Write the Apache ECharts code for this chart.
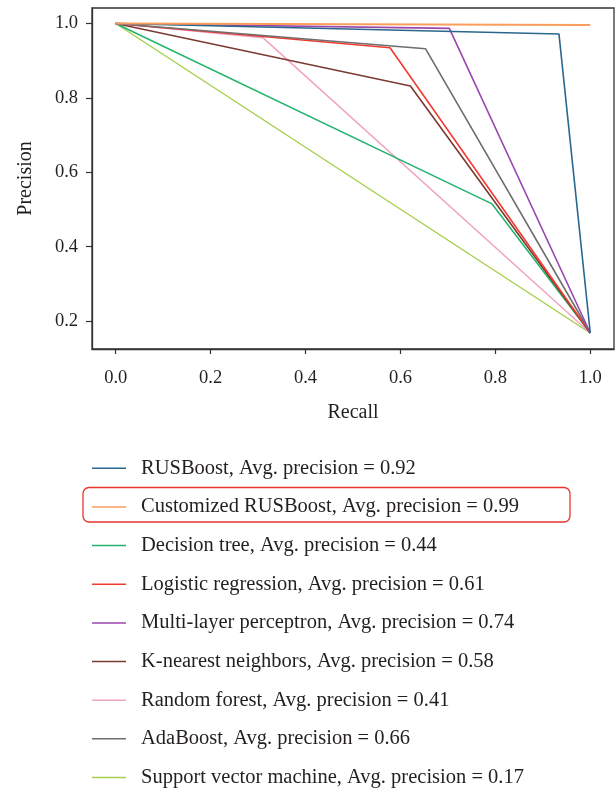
<!DOCTYPE html>
<html>
<head>
<meta charset="utf-8">
<script src="https://cdn.jsdelivr.net/npm/echarts@6/dist/echarts.min.js"></script>
<style>
html,body{margin:0;padding:0;background:#fff;}
#chart{width:616px;height:788px;}
</style>
</head>
<body>
<div id="chart"></div>
<script>
// ---- data ----
const seriesNames = [
  "RUSBoost, Avg. precision = 0.92",
  "Customized RUSBoost, Avg. precision = 0.99",
  "Decision tree, Avg. precision = 0.44",
  "Logistic regression, Avg. precision = 0.61",
  "Multi-layer perceptron, Avg. precision = 0.74",
  "K-nearest neighbors, Avg. precision = 0.58",
  "Random forest, Avg. precision = 0.41",
  "AdaBoost, Avg. precision = 0.66",
  "Support vector machine, Avg. precision = 0.17"
];
const rusboostRecall = [0, 0.934, 1];
const rusboostPrecision = [1, 0.972, 0.168];
const customRecall = [0, 1];
const customPrecision = [1, 0.996];
const treeRecall = [0, 0.793, 1];
const treePrecision = [1, 0.515, 0.168];
const logisticRecall = [0, 0.578, 1];
const logisticPrecision = [1, 0.935, 0.168];
const mlpRecall = [0, 0.703, 1];
const mlpPrecision = [1, 0.987, 0.168];
const knnRecall = [0, 0.621, 1];
const knnPrecision = [1, 0.832, 0.168];
const forestRecall = [0, 0.31, 1];
const forestPrecision = [1, 0.962, 0.168];
const adaRecall = [0, 0.653, 1];
const adaPrecision = [1, 0.932, 0.168];
const svmRecall = [0, 1];
const svmPrecision = [1, 0.168];
const xTicks = [0, 0.2, 0.4, 0.6, 0.8, 1.0];
const yTicks = [0.2, 0.4, 0.6, 0.8, 1.0];

const recalls = [rusboostRecall, customRecall, treeRecall, logisticRecall, mlpRecall, knnRecall, forestRecall, adaRecall, svmRecall];
const precisions = [rusboostPrecision, customPrecision, treePrecision, logisticPrecision, mlpPrecision, knnPrecision, forestPrecision, adaPrecision, svmPrecision];

// ---- styles ----
const colors = ["#2a678d", "#f99d5b", "#22b36c", "#f23a2f", "#9a46ad", "#7a3b32", "#f0a3c3", "#6e6e6e", "#a5cf4b"];
const widths = [1.6, 2, 1.5, 1.6, 1.6, 1.6, 1.5, 1.6, 1.4];
const drawOrder = [8, 6, 2, 5, 3, 7, 4, 0, 1];
const FONT = "Liberation Serif";
const TXT = "#231f20";
const LEGEND_ICON = "path://M0,0H34V1.5H0Z";

const series = drawOrder.map(i => ({
  name: seriesNames[i],
  type: "line",
  data: recalls[i].map((r, k) => [r, precisions[i][k]]),
  showSymbol: false,
  symbol: "none",
  lineStyle: { color: colors[i], width: widths[i] },
  itemStyle: { color: colors[i] },
  z: 2 + drawOrder.indexOf(i) * 0.01,
  animation: false
}));

const chart = echarts.init(document.getElementById("chart"), null, { renderer: "canvas" });
chart.setOption({
  backgroundColor: "#fff",
  animation: false,
  textStyle: { fontFamily: FONT },
  grid: { left: 92, right: 2, top: 8, bottom: 439, show: true, borderColor: "#333", borderWidth: 1.3, backgroundColor: "transparent" },
  xAxis: {
    type: "value", min: -0.05, max: 1.05,
    name: "Recall", nameLocation: "middle", nameGap: 54,
    nameTextStyle: { fontFamily: FONT, fontSize: 20, color: TXT },
    axisLine: { show: true, onZero: false, lineStyle: { color: "#333", width: 1.3 } },
    axisTick: { show: true, length: 5, lineStyle: { color: "#333", width: 1.2 }, customValues: xTicks },
    axisLabel: { customValues: xTicks, margin: 20, fontFamily: FONT, fontSize: 18.5, color: TXT, formatter: v => v.toFixed(1) },
    splitLine: { show: false }
  },
  yAxis: {
    type: "value", min: 0.125, max: 1.0417,
    name: "Precision", nameLocation: "middle", nameGap: 56, nameRotate: 90,
    nameTextStyle: { fontFamily: FONT, fontSize: 20, color: TXT },
    axisLine: { show: true, onZero: false, lineStyle: { color: "#333", width: 1.3 } },
    axisTick: { show: true, length: 6, lineStyle: { color: "#333", width: 1.2 }, customValues: yTicks },
    axisLabel: { customValues: yTicks, margin: 14, fontFamily: FONT, fontSize: 18.5, color: TXT, formatter: v => v.toFixed(1) },
    splitLine: { show: false }
  },
  legend: {
    data: seriesNames.map(n => ({ name: n, icon: LEGEND_ICON })),
    orient: "vertical",
    left: 92, top: 457.8, height: 500,
    itemWidth: 34, itemHeight: 20, itemGap: 17.65,
    symbolKeepAspect: true,
    padding: 0,
    textStyle: { fontFamily: FONT, fontSize: 20.5, color: TXT, lineHeight: 20, padding: [0, 0, 0, 10] },
    selectedMode: false
  },
  graphic: [{
    type: "rect",
    shape: { x: 83, y: 487.5, width: 487, height: 34.5, r: 6 },
    style: { fill: "none", stroke: "#e8362d", lineWidth: 1.3 },
    z: 100
  }],
  series: series
});
</script>
</body>
</html>
